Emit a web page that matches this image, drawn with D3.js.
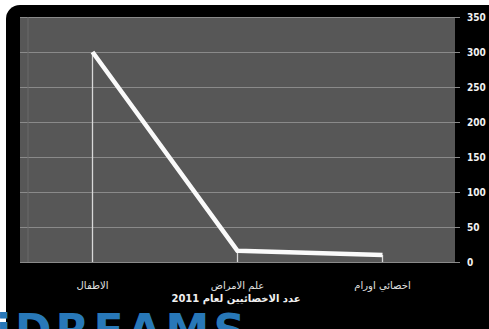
<!DOCTYPE html>
<html>
<head>
<meta charset="utf-8">
<script src="https://cdn.jsdelivr.net/npm/d3@7"></script>
<style>
  html, body { margin: 0; padding: 0; background: #fff; }
  svg { display: block; }
</style>
</head>
<body>
<div id="chart"></div>
<script>
const categories = ["الاطفال", "علم الامراض", "اخصائي اورام"];
const values = [300, 16, 10];
const yTicks = [0, 50, 100, 150, 200, 250, 300, 350];
const title = "عدد الاخصائيين لعام 2011";

const W = 489, H = 329;
const svg = d3.select("#chart").append("svg")
  .attr("width", W).attr("height", H);

// white frame with rounded black panel
svg.append("rect").attr("width", W).attr("height", H).attr("fill", "#fff");
svg.append("rect")
  .attr("x", 6).attr("y", 5).attr("width", W + 20).attr("height", H + 20)
  .attr("rx", 14).attr("fill", "#000");

const plot = {left: 20, right: 455, top: 17, bottom: 262};

const x = d3.scalePoint()
  .domain(categories)
  .range([plot.left, plot.right])
  .padding(0.5);

const y = d3.scaleLinear()
  .domain([0, 350])
  .range([plot.bottom, plot.top]);

// plot background
svg.append("rect")
  .attr("x", plot.left).attr("y", plot.top)
  .attr("width", plot.right - plot.left).attr("height", plot.bottom - plot.top)
  .attr("fill", "#575757");

// horizontal gridlines + ticks on right
const yAxis = d3.axisRight(y)
  .tickValues(yTicks)
  .tickSize(-(plot.right - plot.left))
  .tickPadding(10);

const gy = svg.append("g")
  .attr("transform", `translate(${plot.right + 5},0)`)
  .call(yAxis);
gy.select(".domain").remove();
gy.selectAll(".tick line")
  .attr("x1", 0)
  .attr("x2", -(plot.right - plot.left + 5))
  .attr("stroke", "#8a8a8a").attr("stroke-width", 1.2);
gy.selectAll(".tick text")
  .attr("fill", "#f2f2f2")
  .style("font-family", "'DejaVu Sans Condensed', 'DejaVu Sans', sans-serif")
  .style("font-weight", "bold")
  .style("font-size", "10px")
  .attr("x", 7);

// faint left edge line
svg.append("line")
  .attr("x1", plot.left + 8).attr("x2", plot.left + 8)
  .attr("y1", plot.top).attr("y2", plot.bottom)
  .attr("stroke", "#6a6a6a").attr("stroke-width", 1);

// drop lines
svg.selectAll("line.drop")
  .data(categories)
  .enter().append("line")
  .attr("class", "drop")
  .attr("x1", d => x(d)).attr("x2", d => x(d))
  .attr("y1", (d, i) => y(values[i])).attr("y2", plot.bottom)
  .attr("stroke", "#d8d8d8").attr("stroke-width", 1.3);

// x category labels
svg.selectAll("text.cat")
  .data(categories)
  .enter().append("text")
  .attr("class", "cat")
  .attr("x", d => x(d)).attr("y", 289)
  .attr("text-anchor", "middle")
  .attr("fill", "#e0e0e0")
  .style("font-family", "'DejaVu Sans', sans-serif")
  .style("font-size", "10px")
  .text(d => d);

// line
const line = d3.line()
  .x((d, i) => x(categories[i]))
  .y(d => y(d));

svg.append("path")
  .datum(values)
  .attr("d", line)
  .attr("fill", "none")
  .attr("stroke", "#fafafa")
  .attr("stroke-width", 4.5)
  .attr("stroke-linejoin", "round");

// title
svg.append("text")
  .attr("x", 236).attr("y", 302)
  .attr("text-anchor", "middle")
  .attr("fill", "#f0f0f0")
  .style("font-family", "'DejaVu Sans', sans-serif")
  .style("font-weight", "bold")
  .style("font-size", "10px")
  .text(title);

// watermark
svg.append("text")
  .attr("x", -4).attr("y", 346)
  .attr("fill", "#2878b8")
  .style("font-family", "'DejaVu Sans', sans-serif")
  .style("font-weight", "bold")
  .style("font-size", "44px")
  .style("letter-spacing", "4px")
  .text("iDREAMS");
</script>
</body>
</html>
